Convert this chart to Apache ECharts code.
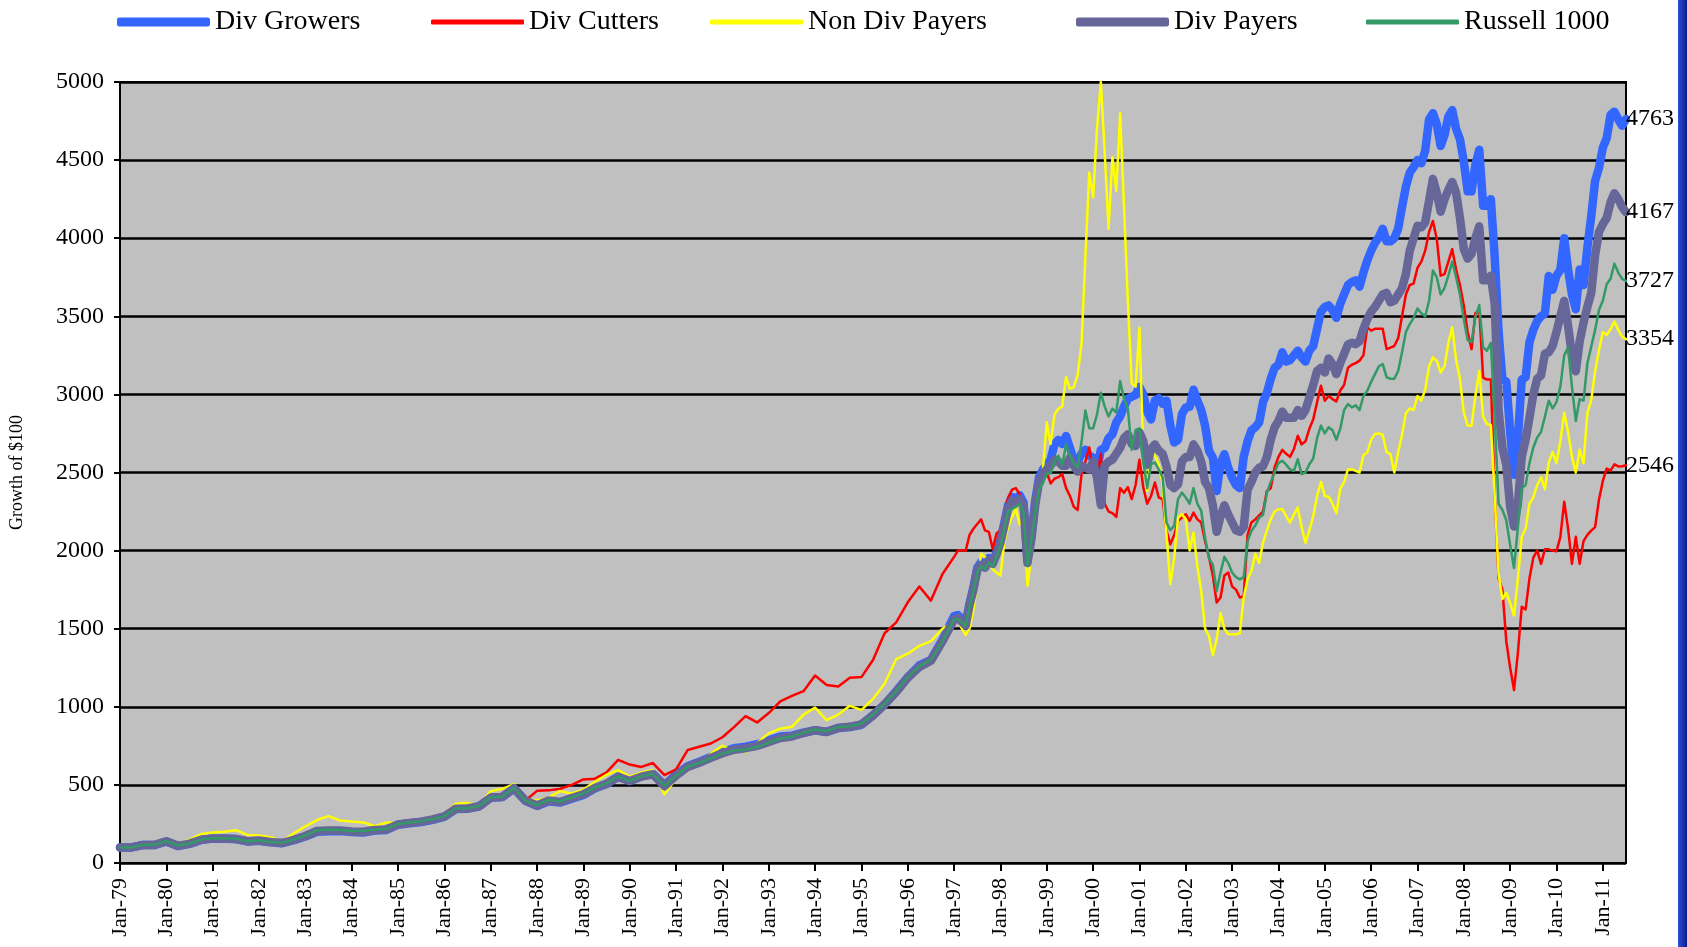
<!DOCTYPE html>
<html>
<head>
<meta charset="utf-8">
<title>Growth of $100</title>
<script src="https://cdn.jsdelivr.net/npm/echarts@6/dist/echarts.min.js"></script>
<style>
  html, body { margin: 0; padding: 0; background: #fff; }
  #chart { width: 1687px; height: 947px; }
</style>
</head>
<body>
<div id="chart"></div>
<script>
// monthly categories Jan-79 .. Jul-11
const monthNames = ['Jan', 'Feb', 'Mar', 'Apr', 'May', 'Jun', 'Jul', 'Aug', 'Sep', 'Oct', 'Nov', 'Dec']
const categories = []
for (let y = 1979; y <= 2011; y++) {
  for (const m of monthNames) {
    if (categories.length < 391) categories.push(m + '-' + String(y % 100).padStart(2, '0'))
  }
}

// quarterly readings Jan-79 .. Jan-97 (every 3rd month)
const growersQ = [100, 100, 115, 115, 138, 108, 122, 148, 156, 156,
  153, 138, 143, 133, 127, 146, 170, 200, 203, 205,
  198, 195, 208, 212, 245, 255, 262, 276, 296, 346,
  348, 362, 418, 422, 478, 398, 365, 395, 388, 412,
  435, 478, 505, 552, 525, 555, 572, 498, 565, 620,
  648, 680, 710, 735, 745, 760, 785, 810, 815, 835,
  850, 838, 865, 870, 885, 945, 1015, 1100, 1190, 1265,
  1300, 1430, 1580]
const cuttersQ = [100, 102, 119, 120, 142, 115, 128, 153, 160, 161,
  158, 143, 148, 138, 132, 153, 179, 213, 217, 216,
  208, 208, 218, 222, 254, 264, 272, 286, 305, 355,
  354, 370, 425, 430, 485, 400, 462, 465, 475, 500,
  535, 540, 580, 660, 630, 615, 640, 563, 600, 723,
  744, 765, 805, 870, 940, 900, 960, 1035, 1070, 1100,
  1200, 1140, 1130, 1186, 1190, 1300, 1471, 1540, 1669, 1770,
  1680, 1850, 1960]
const nonDivQ = [100, 100, 117, 120, 140, 125, 150, 185, 195, 200,
  210, 180, 176, 165, 140, 190, 235, 275, 300, 272,
  265, 260, 235, 260, 255, 270, 268, 275, 315, 380,
  385, 370, 460, 475, 505, 410, 400, 420, 460, 445,
  470, 520, 565, 595, 553, 580, 595, 440, 540, 595,
  640, 700, 750, 720, 710, 770, 830, 860, 872, 950,
  995, 914, 950, 1006, 980, 1050, 1148, 1305, 1340, 1390,
  1420, 1500, 1545]
const payersQ = [100, 100, 116, 116, 139, 110, 124, 149, 157, 157,
  154, 139, 144, 134, 128, 148, 173, 205, 208, 208,
  201, 200, 211, 215, 247, 257, 265, 279, 298, 348,
  349, 363, 419, 423, 479, 399, 368, 400, 391, 416,
  440, 480, 507, 553, 525, 553, 568, 492, 560, 615,
  642, 673, 703, 725, 735, 750, 775, 800, 810, 832,
  850, 840, 865, 872, 888, 945, 1015, 1095, 1185, 1255,
  1295, 1420, 1560]
const russellQ = [100, 100, 117, 117, 140, 112, 125, 150, 158, 158,
  155, 140, 145, 135, 129, 150, 176, 210, 214, 212,
  205, 205, 215, 218, 250, 260, 268, 282, 300, 350,
  350, 365, 420, 425, 480, 400, 370, 405, 395, 420,
  445, 483, 510, 555, 525, 555, 570, 495, 560, 615,
  640, 670, 700, 720, 727, 742, 770, 797, 810, 835,
  855, 845, 870, 876, 893, 950, 1020, 1100, 1190, 1260,
  1300, 1420, 1560]

// monthly readings Feb-97 .. Jul-11
const growersM = [1587, 1561, 1536, 1662, 1763, 1889, 1927, 1902, 1952, 1927,
  1990, 2065, 2178, 2292, 2343, 2330, 2355, 2305, 1940, 2091,
  2317, 2469, 2519, 2544, 2582, 2683, 2708, 2683, 2733, 2657,
  2582, 2570, 2620, 2645, 2607, 2595, 2519, 2645, 2657, 2720,
  2745, 2821, 2859, 2922, 2972, 2985, 2997, 3048, 3000, 2890,
  2840, 2960, 2975, 2940, 2960, 2800, 2692, 2710, 2874, 2917,
  2920, 3030, 2960, 2900, 2800, 2640, 2596, 2382, 2560, 2617,
  2530, 2467, 2420, 2400, 2600, 2700, 2770, 2790, 2820, 2950,
  3010, 3100, 3170, 3190, 3269, 3210, 3220, 3250, 3280, 3237,
  3210, 3280, 3310, 3420, 3530, 3560, 3570, 3540, 3490, 3580,
  3640, 3700, 3720, 3730, 3690, 3780, 3857, 3920, 3970, 4006,
  4060, 3980, 3980, 4000, 4060, 4200, 4330, 4420, 4455, 4500,
  4480, 4560, 4760, 4800, 4730, 4590, 4660, 4780, 4820, 4700,
  4633, 4490, 4300, 4300, 4470, 4566, 4208, 4208, 4250, 3880,
  3400, 3095, 3082, 2760, 2485, 2724, 3095, 3110, 3334, 3413,
  3470, 3500, 3519, 3758, 3670, 3760, 3797, 4000, 3800, 3640,
  3546, 3800, 3700, 3940, 4140, 4367, 4450, 4580, 4640, 4790,
  4810, 4760, 4720, 4763]
const cuttersM = [2000, 2000, 2000, 2100, 2140, 2170, 2200, 2130, 2120, 2010,
  2110, 2130, 2230, 2340, 2390, 2400, 2360, 2300, 2050, 2160,
  2300, 2420, 2470, 2500, 2430, 2460, 2470, 2490, 2400, 2350,
  2280, 2260, 2490, 2570, 2660, 2494, 2450, 2620, 2300, 2250,
  2240, 2216, 2400, 2370, 2406, 2330, 2420, 2582, 2404, 2300,
  2350, 2436, 2340, 2329, 2126, 2040, 2100, 2190, 2211, 2233,
  2190, 2243, 2200, 2180, 2060, 1960, 1841, 1667, 1700, 1840,
  1860, 1770, 1750, 1700, 1709, 2100, 2180, 2200, 2225, 2250,
  2382, 2400, 2532, 2600, 2645, 2620, 2600, 2650, 2735, 2680,
  2700, 2780, 2840, 2950, 3055, 2960, 2990, 2970, 2955, 3025,
  3060, 3170, 3190, 3200, 3216, 3250, 3429, 3408, 3420, 3420,
  3420, 3290, 3300, 3310, 3360, 3500, 3640, 3700, 3710, 3810,
  3850, 3920, 4040, 4110, 3995, 3760, 3770, 3850, 3930, 3800,
  3700, 3570, 3400, 3290, 3520, 3540, 3108, 3095, 3095, 2353,
  1822, 1750, 1420, 1250, 1107, 1345, 1640, 1624, 1822, 1955,
  2000, 1915, 2008, 2008, 2000, 1995, 2088, 2313, 2141, 1915,
  2088, 1915, 2061, 2101, 2128, 2150, 2326, 2446, 2525, 2512,
  2552, 2539, 2540, 2546]
const nonDivM = [1560, 1500, 1460, 1500, 1620, 1800, 1980, 1960, 1930, 1880,
  1860, 1840, 2053, 2153, 2216, 2267, 2166, 2242, 1776, 1965,
  2216, 2418, 2519, 2821, 2683, 2871, 2909, 2922, 3111, 3035,
  3047, 3123, 3325, 3880, 4420, 4260, 4700, 5000, 4550, 4060,
  4520, 4300, 4800, 4200, 3600, 3070, 3050, 3426, 2620, 2380,
  2640, 2607, 2553, 2425, 2105, 1784, 1955, 2211, 2233, 2200,
  2000, 2115, 1900, 1741, 1500, 1453, 1330, 1432, 1600, 1500,
  1464, 1464, 1464, 1470, 1699, 1816, 1870, 1980, 1920, 2050,
  2130, 2200, 2250, 2265, 2265, 2220, 2180, 2230, 2275, 2150,
  2050, 2130, 2220, 2350, 2440, 2350, 2345, 2300, 2240, 2395,
  2440, 2520, 2521, 2510, 2500, 2610, 2628, 2710, 2746, 2750,
  2740, 2630, 2617, 2500, 2630, 2740, 2880, 2910, 2900, 2990,
  2960, 3030, 3180, 3237, 3216, 3140, 3180, 3330, 3429, 3220,
  3100, 2883, 2800, 2800, 2990, 3150, 2857, 2810, 2804, 2353,
  1850, 1690, 1730, 1663, 1584, 1820, 2088, 2141, 2300, 2340,
  2420, 2470, 2393, 2565, 2631, 2560, 2700, 2883, 2760, 2600,
  2499, 2645, 2560, 2880, 2963, 3150, 3281, 3400, 3380, 3420,
  3466, 3413, 3370, 3354]
const payersM = [1570, 1545, 1520, 1650, 1750, 1875, 1910, 1890, 1940, 1915,
  1975, 2050, 2160, 2270, 2320, 2310, 2330, 2285, 1920, 2070,
  2290, 2440, 2490, 2520, 2544, 2582, 2570, 2544, 2544, 2595,
  2544, 2506, 2544, 2531, 2519, 2570, 2469, 2292, 2544, 2570,
  2582, 2620, 2657, 2720, 2745, 2683, 2670, 2758, 2700, 2550,
  2650, 2680, 2640, 2620, 2540, 2420, 2400, 2425, 2570, 2600,
  2600, 2680, 2640, 2570, 2440, 2400, 2290, 2120, 2220, 2290,
  2230, 2180, 2130, 2120, 2150, 2390, 2440, 2500, 2530, 2540,
  2600, 2710, 2790, 2830, 2890, 2850, 2850, 2850, 2900, 2863,
  2900, 2980, 3060, 3150, 3170, 3140, 3230, 3194, 3130, 3200,
  3260, 3320, 3330, 3322, 3340, 3420, 3480, 3530, 3560, 3600,
  3640, 3650, 3590, 3600, 3640, 3680, 3770, 3920, 4000, 4080,
  4070, 4100, 4240, 4380, 4290, 4170, 4250, 4310, 4360, 4290,
  4130, 3930, 3870, 3900, 4000, 4076, 3731, 3731, 3760, 3580,
  2900, 2658, 2550, 2280, 2154, 2300, 2600, 2710, 2850, 3000,
  3100, 3122, 3260, 3270, 3310, 3400, 3500, 3599, 3440, 3250,
  3148, 3340, 3460, 3560, 3650, 3890, 4040, 4090, 4129, 4230,
  4288, 4250, 4200, 4167]
const russellM = [1560, 1540, 1520, 1640, 1740, 1860, 1900, 1880, 1925, 1900,
  1960, 2030, 2140, 2250, 2267, 2280, 2300, 2242, 1902, 2065,
  2242, 2393, 2431, 2494, 2494, 2570, 2607, 2544, 2683, 2607,
  2557, 2531, 2695, 2897, 2783, 2783, 2871, 3010, 2922, 2859,
  2909, 2884, 3085, 2972, 2909, 2645, 2771, 2783, 2570, 2400,
  2553, 2564, 2520, 2470, 2180, 2130, 2160, 2330, 2371, 2340,
  2300, 2400, 2300, 2254, 2080, 1950, 1910, 1741, 1860, 1960,
  1920, 1860, 1830, 1816, 1830, 2060, 2126, 2160, 2211, 2230,
  2370, 2440, 2500, 2560, 2575, 2550, 2520, 2510, 2585, 2489,
  2500, 2553, 2590, 2720, 2800, 2750, 2790, 2770, 2710, 2780,
  2900, 2938, 2917, 2930, 2900, 2990, 3023, 3080, 3130, 3180,
  3194, 3110, 3100, 3100, 3150, 3270, 3400, 3450, 3490, 3550,
  3520, 3500, 3600, 3793, 3750, 3640, 3680, 3760, 3850, 3750,
  3640, 3480, 3347, 3334, 3493, 3572, 3300, 3280, 3330, 2850,
  2300, 2260, 2194, 2035, 1889, 2150, 2400, 2419, 2560, 2660,
  2724, 2760, 2857, 2960, 2910, 2950, 3050, 3250, 3300, 3050,
  2830, 2970, 2960, 3200, 3307, 3413, 3540, 3599, 3705, 3740,
  3837, 3780, 3740, 3727]

const yTicks = [0, 500, 1000, 1500, 2000, 2500, 3000, 3500, 4000, 4500, 5000]

const serif = "'Liberation Serif', 'Times New Roman', serif"
const monthlyStart = 217

// quarterly points sit on every 3rd month, then monthly points follow
function build(q, m) {
  const d = []
  q.forEach((v, i) => d.push([i * 3, v]))
  m.forEach((v, j) => d.push([monthlyStart + j, v]))
  return d
}

const seriesDefs = [
  { name: 'Div Growers', color: '#3366ff', width: 8.5, q: growersQ, m: growersM, legendLeft: 112, legendH: 9 },
  { name: 'Div Cutters', color: '#ff0000', width: 2.5, q: cuttersQ, m: cuttersM, legendLeft: 426, legendH: 5 },
  { name: 'Non Div Payers', color: '#ffff00', width: 2.5, q: nonDivQ, m: nonDivM, legendLeft: 705, legendH: 5 },
  { name: 'Div Payers', color: '#666699', width: 8.5, q: payersQ, m: payersM, legendLeft: 1071, legendH: 9 },
  { name: 'Russell 1000', color: '#339966', width: 2.5, q: russellQ, m: russellM, legendLeft: 1361, legendH: 5 }
]

const chart = echarts.init(document.getElementById('chart'), null, { renderer: 'canvas' })

chart.setOption({
  backgroundColor: '#ffffff',
  animation: false,
  textStyle: { fontFamily: serif },
  legend: seriesDefs.map(s => ({
    data: [s.name],
    left: s.legendLeft,
    top: 3,
    icon: 'roundRect',
    itemWidth: 93,
    itemHeight: s.legendH,
    selectedMode: false,
    textStyle: { fontFamily: serif, fontSize: 28, color: '#000' }
  })),
  grid: {
    left: 112,
    right: 61,
    top: 82,
    bottom: 84,
    show: true,
    backgroundColor: '#c0c0c0',
    borderColor: '#000',
    borderWidth: 2
  },
  xAxis: {
    type: 'category',
    data: categories,
    boundaryGap: false,
    axisLine: { lineStyle: { color: '#000', width: 2 } },
    axisTick: {
      show: true,
      interval: i => i % 12 === 0,
      length: 8,
      lineStyle: { color: '#000', width: 2 }
    },
    axisLabel: {
      interval: i => i % 12 === 0,
      rotate: 90,
      margin: 15,
      fontFamily: serif,
      fontSize: 22,
      color: '#000'
    },
    splitLine: { show: false }
  },
  yAxis: {
    type: 'value',
    min: yTicks[0],
    max: yTicks[yTicks.length - 1],
    interval: 500,
    name: 'Growth of $100',
    nameLocation: 'middle',
    nameRotate: 90,
    nameGap: 94,
    nameTextStyle: { fontFamily: serif, fontSize: 18, color: '#000' },
    axisLine: { show: true, lineStyle: { color: '#000', width: 2 } },
    axisTick: { show: true, length: 6, lineStyle: { color: '#000', width: 2 } },
    axisLabel: {
      margin: 16,
      fontFamily: serif,
      fontSize: 24,
      color: '#000',
      formatter: v => String(v)
    },
    splitLine: { show: true, lineStyle: { color: '#000', width: 2.5 } }
  },
  series: seriesDefs.map(s => ({
    name: s.name,
    type: 'line',
    data: build(s.q, s.m),
    symbol: 'none',
    showSymbol: false,
    silent: true,
    color: s.color,
    itemStyle: { color: s.color },
    lineStyle: { color: s.color, width: s.width, cap: 'round', join: 'round' },
    endLabel: {
      show: true,
      formatter: p => String(p.value[1]),
      distance: 0,
      fontFamily: serif,
      fontSize: 24,
      color: '#000'
    }
  })),
  graphic: [{
    type: 'rect',
    left: 1678,
    top: 0,
    shape: { width: 9, height: 947 },
    style: {
      fill: new echarts.graphic.LinearGradient(0, 0, 1, 0, [
        { offset: 0, color: '#2b4fd8' },
        { offset: 1, color: '#0a1c8c' }
      ])
    },
    silent: true
  }]
})
</script>
</body>
</html>
